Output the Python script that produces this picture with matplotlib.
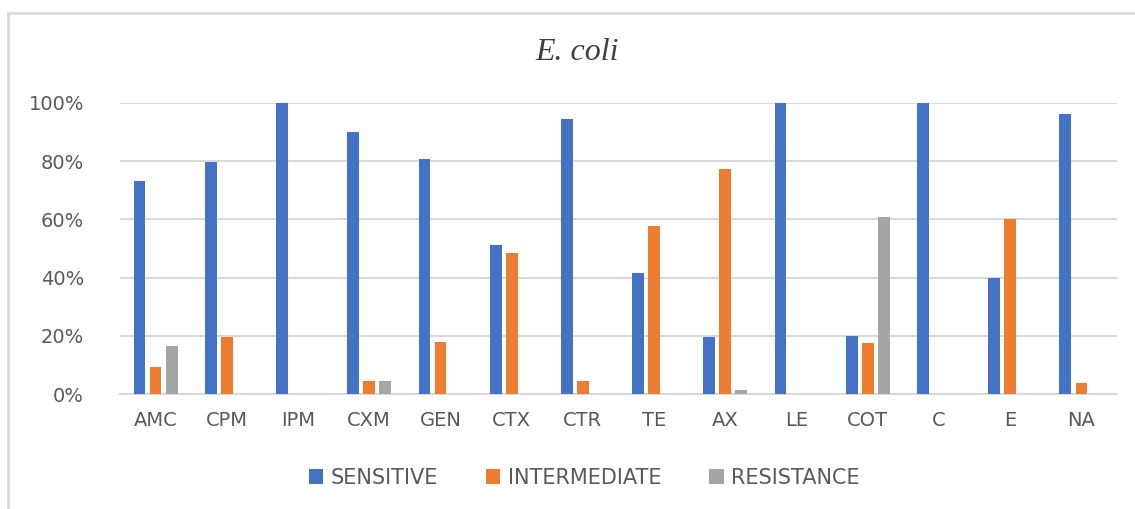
import matplotlib
matplotlib.use("Agg")
import matplotlib.pyplot as plt
import numpy as np
from matplotlib.lines import Line2D
from matplotlib.ticker import FuncFormatter

categories = ["AMC", "CPM", "IPM", "CXM", "GEN", "CTX", "CTR", "TE", "AX", "LE", "COT", "C", "E", "NA"]
sensitive = [73.2, 79.6, 100, 90.0, 80.8, 51.3, 94.5, 41.7, 19.6, 100, 20.0, 100, 40.0, 96.2]
intermediate = [9.2, 19.7, 0, 4.6, 17.8, 48.6, 4.4, 57.6, 77.3, 0, 17.6, 0, 60.0, 3.8]
resistance = [16.4, 0, 0, 4.6, 0, 0, 0, 0, 1.3, 0, 60.7, 0, 0, 0]
series_names = ["SENSITIVE", "INTERMEDIATE", "RESISTANCE"]
colors = ["#4472C4", "#ED7D31", "#A5A5A5"]
yticks = [0, 20, 40, 60, 80, 100]

W, H = 1135, 509
fig = plt.figure(figsize=(W / 100, H / 100), dpi=100)
ax = fig.add_axes([120 / W, 1 - 394 / H, (1117 - 120) / W, (394 - 103) / H])

x = np.arange(len(categories))
pitch = 0.225
width = 0.165
for i, (vals, name, c) in enumerate(zip([sensitive, intermediate, resistance], series_names, colors)):
    ax.bar(x + (i - 1) * pitch, vals, width=width, color=c, label=name, zorder=3)

ax.set_xlim(-0.5, len(categories) - 0.5)
ax.set_ylim(0, 100)
ax.set_yticks(yticks)
ax.yaxis.set_major_formatter(FuncFormatter(lambda v, p: f"{int(v)}%"))
ax.set_xticks(x)
ax.set_xticklabels(categories)
ax.grid(axis="y", color="#D9D9D9", linewidth=1.5, zorder=0)
ax.tick_params(axis="both", length=0, labelsize=14, colors="#595959")
ax.tick_params(axis="y", pad=26)
ax.tick_params(axis="x", pad=12)
for s in ["top", "right", "left"]:
    ax.spines[s].set_visible(False)
ax.spines["bottom"].set_color("#D9D9D9")
ax.spines["bottom"].set_linewidth(1.5)

fig.text(577 / W, 1 - 52 / H, "E. coli", ha="center", va="center", fontsize=23,
         family="Liberation Serif", style="italic", color="#404040")

leg = fig.legend(loc="center", bbox_to_anchor=(584 / W, 1 - 478 / H), ncol=3, frameon=False,
                 fontsize=15, handlelength=0.7, handleheight=0.7, handletextpad=0.35,
                 columnspacing=2.3, labelcolor="#595959")

# chart border (top and left)
fig.add_artist(Line2D([8 / W, 1], [1 - 13 / H, 1 - 13 / H], transform=fig.transFigure,
                      color="#D9D9D9", linewidth=2))
fig.add_artist(Line2D([8 / W, 8 / W], [0, 1 - 13 / H], transform=fig.transFigure,
                      color="#D9D9D9", linewidth=2))

fig.savefig("out.png", dpi=100)
